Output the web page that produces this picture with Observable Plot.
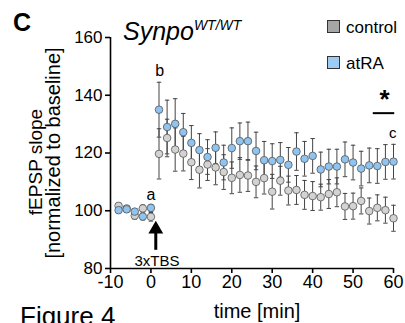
<!DOCTYPE html>
<html><head><meta charset="utf-8">
<script src="https://cdn.jsdelivr.net/npm/d3@7"></script>
<script src="https://cdn.jsdelivr.net/npm/@observablehq/plot@0.6"></script>
<style>
html,body{margin:0;padding:0;background:#fff;}
#chart{width:405px;height:323px;overflow:hidden;}
svg text{font-family:"Liberation Sans",Arial,sans-serif;}
</style></head>
<body><div id="chart"></div>
<script>
const time = [-8,-6,-4,-2,0,2,4,6,8,10,12,14,16,18,20,22,24,26,28,30,32,34,36,38,40,42,44,46,48,50,52,54,56,58,60];
const controlMean = [101.7,100.8,98.3,100.8,97.9,119.7,125.2,121.2,119.8,116.8,114.2,116.0,115.0,113.4,111.4,112.4,112.2,110.0,111.3,106.6,110.4,107.0,107.2,105.5,105.1,104.7,105.8,106.4,101.5,101.6,103.4,99.9,101.0,100.2,97.4];
const controlSem = [1.0,1.0,1.2,1.2,1.5,8.7,6.5,7.5,6.0,6.0,6.3,5.5,6.0,6.0,5.5,6.0,5.5,5.5,5.5,6.0,5.0,5.0,5.0,5.0,5.0,4.5,5.0,5.0,4.5,4.5,4.5,4.5,4.5,4.5,4.5];
const atraMean = [100.2,100.5,99.7,98.0,101.0,135.0,129.0,130.1,127.2,123.5,121.0,118.6,121.8,116.7,121.7,124.1,124.1,120.7,117.5,117.2,117.6,115.9,120.5,118.0,119.0,114.3,115.3,115.3,117.8,116.7,114.6,115.7,115.5,116.9,117.0];
const atraSem = [1.0,1.0,1.0,1.2,1.2,9.5,9.3,8.7,6.5,6.0,5.7,6.0,5.5,6.0,7.0,6.3,6.6,6.5,6.5,6.0,6.0,6.0,6.5,6.0,6.0,6.0,6.0,6.0,6.0,6.0,6.0,6.0,6.0,6.0,6.0];
const groups = ["control","atRA"];
const xTicks = [-10,0,10,20,30,40,50,60];
const yTicks = [80,100,120,140,160];

const colors = {control:"#d3d3d3", atRA:"#8fc4f0"};
const legendColors = {control:"#a6a6a6", atRA:"#9cccf4"};

const rows = [];
time.forEach((t,i)=>{
  rows.push({t, g:"control", m:controlMean[i], e:controlSem[i]});
  rows.push({t, g:"atRA", m:atraMean[i], e:atraSem[i]});
});
const ctrl = rows.filter(d=>d.g==="control");
const atra = rows.filter(d=>d.g==="atRA");
const capW = 0.55;
function errMarks(data){
  return [
    Plot.ruleX(data, {x:"t", y1:d=>d.m-d.e, y2:d=>d.m+d.e, stroke:"#444", strokeWidth:1}),
    Plot.link(data, {x1:d=>d.t-capW, x2:d=>d.t+capW, y1:d=>d.m+d.e, y2:d=>d.m+d.e, stroke:"#444", strokeWidth:1}),
    Plot.link(data, {x1:d=>d.t-capW, x2:d=>d.t+capW, y1:d=>d.m-d.e, y2:d=>d.m-d.e, stroke:"#444", strokeWidth:1})
  ];
}

const plot = Plot.plot({
  width:405, height:323,
  marginLeft:110, marginRight:12, marginTop:37, marginBottom:55,
  x:{domain:[-10,60]}, y:{domain:[80,160]},
  style:{fontFamily:"Liberation Sans, Arial, sans-serif", background:"#fff", color:"#000"},
  marks:[
    ...errMarks(ctrl),
    ...errMarks(atra),
    Plot.dot(ctrl, {x:"t", y:"m", r:3.8, fill:colors.control, stroke:"#555", strokeWidth:0.8}),
    Plot.dot(atra, {x:"t", y:"m", r:3.8, fill:colors.atRA, stroke:"#555", strokeWidth:0.8}),
    Plot.ruleX([-10], {y1:80, y2:160, stroke:"#000", strokeWidth:1.6}),
    Plot.ruleY([80], {x1:-10, x2:60, stroke:"#000", strokeWidth:1.6}),
    Plot.axisY({ticks:yTicks, tickSize:5, tickPadding:3, fontSize:17, tickFormat:d=>String(d), label:null, strokeWidth:1.6}),
    Plot.axisX({ticks:xTicks, tickSize:5, tickPadding:2, fontSize:18, tickFormat:d=>String(d), label:null, strokeWidth:1.6}),
    // annotations
    Plot.text(["a"], {x:0, y:105.6, text:d=>d, fontSize:16, fill:"#000"}),
    Plot.text(["b"], {x:2.2, y:148.5, text:d=>d, fontSize:16, fill:"#000"}),
    Plot.text(["c"], {x:59.8, y:126.8, text:d=>d, fontSize:15, fill:"#000"}),
    Plot.text(["*"], {x:57.8, y:138.5, text:d=>d, fontSize:26, fontWeight:"bold", fill:"#000"}),
    Plot.ruleY([133.8], {x1:55, x2:60.3, stroke:"#000", strokeWidth:2}),
    Plot.ruleX([1.2], {y1:86.3, y2:93.2, stroke:"#000", strokeWidth:3}),
    Plot.dot([1.2], {x:d=>d, y:93.6, symbol:"triangle", r:5.5, fill:"#000", stroke:"none"}),
    Plot.text(["3xTBS"], {x:1.5, y:82.6, text:d=>d, fontSize:15, fill:"#000"})
  ]
});
document.getElementById("chart").appendChild(plot);

const svg = d3.select(plot);
svg.attr("overflow","hidden");
svg.append("text").attr("text-anchor","start").attr("x",13).attr("y",31).attr("font-size",25).attr("font-weight","bold").text("C");
const title = svg.append("text").attr("text-anchor","start").attr("x",123).attr("y",40).attr("font-size",25).attr("font-style","italic");
title.append("tspan").text("Synpo");
title.append("tspan").attr("font-size",14).attr("dy",-10).text("WT/WT");
// y label
svg.append("text").attr("text-anchor","middle").attr("transform","translate(42,162) rotate(-90)")
  .attr("font-size",19).text("fEPSP slope");
svg.append("text").attr("text-anchor","middle").attr("transform","translate(60,153) rotate(-90)")
  .attr("font-size",20).text("[normalized to baseline]");
// x label
svg.append("text").attr("text-anchor","middle").attr("x",257).attr("y",318).attr("font-size",20).text("time [min]");
svg.append("text").attr("text-anchor","start").attr("x",20).attr("y",325).attr("font-size",26).text("Figure 4");
// legend
groups.forEach((g,i)=>{
  const y0 = 20 + i*36;
  svg.append("rect").attr("x",327.5).attr("y",y0+0.5).attr("width",12).attr("height",12)
    .attr("fill",legendColors[g]).attr("stroke","#333").attr("stroke-width",1);
  svg.append("text").attr("text-anchor","start").attr("x",346).attr("y",y0+12.5).attr("font-size",17).text(g);
});
</script></body></html>
